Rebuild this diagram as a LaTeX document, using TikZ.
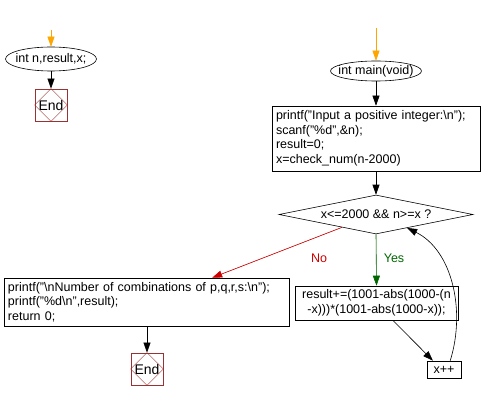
\documentclass[tikz,border=0pt]{standalone}
\usepackage{fontspec}
\setmainfont{Liberation Sans}
\usetikzlibrary{shapes.geometric,arrows.meta,calc}
\definecolor{endred}{HTML}{993333}
\definecolor{nored}{HTML}{CC0000}
\definecolor{yesgreen}{HTML}{006600}
\definecolor{startorange}{HTML}{FFA500}
\begin{document}
\begin{tikzpicture}[x=1pt,y=-1pt,
  every node/.style={font=\fontsize{12.5}{14.5}\selectfont, inner sep=0pt},
  conn/.style={line width=0.6pt, -{Triangle[length=10pt,width=7pt]}},
  startarr/.style={conn, draw=startorange, fill=startorange},
  oval/.style={draw, ellipse, line width=0.6pt},
  box/.style={draw, rectangle, line width=0.6pt},
  endbox/.style={draw=endred, rectangle, line width=0.8pt, minimum width=32pt, minimum height=32pt, font=\fontsize{14}{16}\selectfont},
  dia/.style={draw, diamond, aspect=5, line width=0.6pt, minimum width=194pt, minimum height=39pt}
]
\useasboundingbox (0,0) rectangle (482,401);

% left part
\coordinate (s1) at (51,30);
\node[oval, minimum width=91pt, minimum height=24pt] (v1) at (51,59) {\makebox[0pt]{int n,result,x;}};
\node[endbox] (e1) at (51,105) {End};
\draw[endred, line width=0.4pt] (e1.north) -- (e1.east) -- (e1.south) -- (e1.west) -- cycle;
\draw[startarr] (s1) -- (v1.north);
\draw[conn] (v1.south) -- (e1.north);

% main
\coordinate (s2) at (376,28);
\node[oval, minimum width=91pt, minimum height=20pt] (v2) at (376,71) {\makebox[0pt]{int main(void)}};
\node[box, minimum width=208pt, minimum height=65pt, text width=200pt, align=left] (b1) at (376,138.5)
  {printf("Input a positive integer:\textbackslash n");\\scanf("\%d",\&n);\\result=0;\\x=check\_num(n-2000)};
\node[dia] (d) at (376,214.5) {x<=2000 \&\& n>=x ?};
\node[box, minimum width=285pt, minimum height=48pt, text width=277pt, align=left] (b2) at (146.5,302)
  {printf("\textbackslash nNumber of combinations of p,q,r,s:\textbackslash n");\\printf("\%d\textbackslash n",result);\\return 0;};
\node[endbox] (e2) at (147,369) {End};
\draw[endred, line width=0.4pt] (e2.north) -- (e2.east) -- (e2.south) -- (e2.west) -- cycle;
\node[box, minimum width=163pt, minimum height=34pt, align=center] (b3) at (376.5,303)
  {result+=(1001-abs(1000-(n\\-x)))*(1001-abs(1000-x));};
\node[box, minimum width=34pt, minimum height=17pt] (b4) at (444,369.5) {x++};

\draw[startarr] (s2) -- (v2.north);
\draw[conn] (v2.south) -- (b1.north);
\draw[conn] (b1.south) -- (d.north);
\draw[conn, draw=nored, fill=nored] ($(d.west)!0.65!(d.south)$) -- ($(b2.north west)!0.73!(b2.north east)$);
\node[text=nored] (no) at (319,258) {No};
\draw[conn] (b2.south -| e2.north) -- (e2.north);
\draw[conn, draw=yesgreen, fill=yesgreen] (d.south) -- (b3.north);
\node[text=yesgreen] (yes) at (394,258) {Yes};
\draw[conn] ($(b3.south west)!0.6!(b3.south east)$) -- ($(b4.north west)!0.18!(b4.north east)$);
\draw[conn] ($(b4.north west)!0.68!(b4.north east)$) .. controls (466,310) and (452,250) .. ($(d.south)!0.32!(d.east)$);
\end{tikzpicture}
\end{document}
